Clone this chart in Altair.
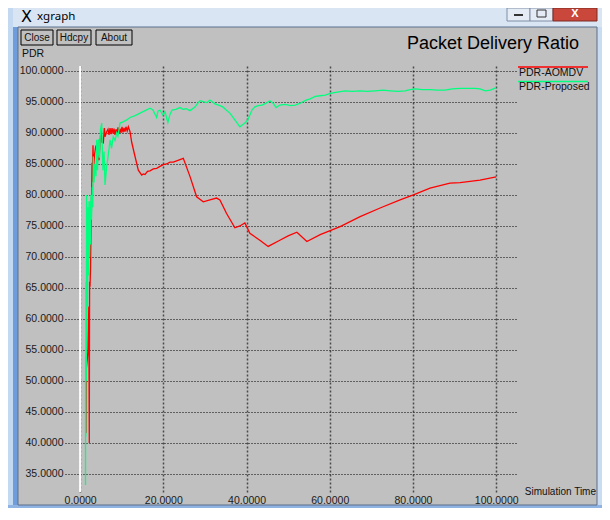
import altair as alt
import pandas as pd

# ---------------- data ----------------
aomdv_t = [1.37, 1.42, 1.49, 1.61, 1.73, 1.90, 2.09, 2.21, 2.28, 2.38,
           2.50, 2.62, 2.69, 2.79, 2.86, 2.93, 3.10, 3.22, 3.46, 3.75,
           3.99, 4.18, 4.38, 4.54, 4.78, 5.02, 5.26, 5.58, 5.82, 5.99,
           6.39, 6.71, 6.95, 7.19, 7.43, 7.67, 7.91, 8.15, 8.39, 8.63,
           8.87, 9.11, 9.35, 9.59, 9.83, 10.07, 10.31, 10.55, 10.79, 11.03,
           11.31, 11.59, 12.0, 12.4, 13.2, 13.99, 14.8, 15.2, 15.6, 16.2,
           16.8, 17.6, 18.4, 19.2, 20.0, 20.8, 21.6, 22.4, 23.2, 24.0,
           24.8, 26.4, 28.0, 29.6, 31.2, 32.8, 33.6, 35.2, 37.2, 38.4,
           39.6, 40.8, 43.2, 45.2, 48.0, 50.0, 52.1, 54.5, 57.7, 62.5,
           67.3, 72.1, 76.9, 80.1, 84.1, 88.9, 91.3, 96.1, 100.0]
aomdv_pdr = [52.6, 41.6, 52.0, 52.8, 53.5, 55.0, 62.0, 40.0, 66.0, 65.2,
             68.0, 74.4, 76.5, 81.3, 85.2, 82.1, 88.0, 84.0, 86.5, 87.8,
             88.1, 85.4, 87.0, 85.6, 88.4, 90.5, 88.5, 88.4, 90.8, 89.4,
             90.2, 90.6, 89.7, 90.8, 89.8, 90.8, 89.9, 90.7, 89.7, 90.6,
             89.8, 90.9, 89.9, 90.7, 90.0, 91.0, 90.1, 90.8, 90.2, 91.0,
             90.3, 91.0, 90.2, 88.5, 86.2, 84.0, 83.2, 83.4, 83.3, 83.8,
             83.9, 84.2, 84.3, 84.6, 84.9, 85.0, 85.3, 85.3, 85.5, 85.7,
             85.9, 83.0, 79.7, 78.9, 79.2, 79.5, 79.2, 77.0, 74.7, 75.0,
             75.5, 73.8, 72.7, 71.7, 72.7, 73.4, 74.0, 72.5, 73.6, 74.9,
             76.5, 77.9, 79.2, 80.0, 81.1, 81.9, 82.0, 82.4, 82.9]

proposed_t = [1.30, 1.32, 1.37, 1.42, 1.49, 1.56, 1.63, 1.71, 1.78, 1.90,
              2.00, 2.14, 2.26, 2.38, 2.50, 2.62, 2.74, 2.93, 3.05, 3.17,
              3.34, 3.58, 3.82, 3.99, 4.18, 4.42, 4.66, 4.90, 5.19, 5.38,
              5.50, 5.75, 5.99, 6.39, 6.70, 7.19, 7.55, 7.98, 8.39, 8.80,
              9.10, 9.59, 10.3, 11.2, 12.0, 13.2, 14.4, 15.6, 16.8, 17.5,
              18.4, 18.7, 19.2, 19.9, 20.4, 21.1, 21.6, 22.1, 23.0, 24.0,
              24.7, 25.5, 26.4, 27.6, 28.3, 28.8, 29.8, 30.5, 31.2, 32.4,
              33.6, 34.3, 35.1, 36.0, 37.2, 38.4, 39.2, 39.6, 40.3, 41.3,
              42.0, 42.8, 43.7, 44.7, 45.6, 46.4, 47.1, 48.0, 49.3, 50.5,
              51.7, 52.9, 54.3, 55.3, 56.5, 57.7, 58.9, 60.1, 61.8, 63.7,
              65.4, 67.3, 69.0, 70.9, 72.8, 74.5, 76.4, 78.1, 79.3, 80.5,
              82.2, 84.1, 85.8, 87.7, 89.4, 91.3, 93.2, 94.9, 96.1, 97.4,
              98.6, 100.0]
proposed_pdr = [33.2, 54, 41, 66, 50, 80, 58, 75, 62, 78,
                67, 79, 70, 79, 72, 80, 76, 81.3, 78, 86.2,
                82, 85, 83, 88.9, 84, 89, 86, 90.5, 91.6, 86.5,
                84, 87, 81.6, 84.6, 86, 88.9, 87.5, 89.4, 88.8, 90,
                89.5, 91.6, 91.8, 92.1, 92.5, 92.8, 93.2, 93.6, 94.0, 93.7,
                92.5, 93.5, 93.7, 92.9, 93.4, 91.7, 93.0, 93.7, 93.8, 94.1,
                93.8, 93.9, 93.6, 94.2, 94.8, 95.2, 95.0, 94.9, 95.3, 94.7,
                94.4, 94.2, 93.7, 93.2, 92.1, 91.0, 91.4, 91.6, 92.1, 93.7,
                94.2, 94.4, 94.5, 94.8, 95.2, 94.8, 94.1, 94.5, 94.6, 94.4,
                94.5, 94.8, 95.3, 95.5, 95.9, 96.0, 96.1, 96.4, 96.6, 96.8,
                96.7, 96.8, 96.7, 96.8, 96.9, 96.8, 96.7, 96.8, 97.0, 97.1,
                97.0, 97.0, 96.9, 96.9, 97.1, 97.2, 97.2, 97.2, 97.1, 96.8,
                96.9, 97.3]

series_names = ["PDR-AOMDV", "PDR-Proposed"]
series_colors = ["#ff0000", "#00ff7f"]
x_ticks = [0, 20, 40, 60, 80, 100]
y_ticks = [35, 40, 45, 50, 55, 60, 65, 70, 75, 80, 85, 90, 95, 100]

df = pd.concat([
    pd.DataFrame({"t": aomdv_t, "pdr": aomdv_pdr, "series": series_names[0],
                  "i": range(len(aomdv_t))}),
    pd.DataFrame({"t": proposed_t, "pdr": proposed_pdr, "series": series_names[1],
                  "i": range(len(proposed_t))}),
])

color_scale = alt.Scale(domain=series_names, range=series_colors)
FONT = "Liberation Sans"

# plot area occupies page x 65..517, y 66..492
OX, OY = 65, 66
PW, PH = 452, 426
BOTTOM = OY + PH  # page y of plot bottom
one = pd.DataFrame({"k": [0]})


def rect(x0, y0, x1, y1, **kw):
    return alt.Chart(one).mark_rect(**kw).encode(
        x=alt.value(x0 - OX), x2=alt.value(x1 - OX),
        y=alt.value(y0 - OY), y2=alt.value(y1 - OY))


def label(x, y, txt, **kw):
    base = dict(font=FONT, fontSize=10.5, color="#111", baseline="middle", align="left")
    base.update(kw)
    return alt.Chart(one).mark_text(text=txt, **base).encode(
        x=alt.value(x - OX), y=alt.value(y - OY))


chrome = [
    # title bar and window frame
    rect(8, 8, 602, 27, fill="#d9e5f3"),
    rect(8, 8, 13, 508, fill="#c3d8f1"),
    rect(13, 27, 18, 508, fill="#6f9ddb"),
    rect(597, 27, 602, 508, fill="#c9dcf2"),
    rect(8, 505, 602, 508, fill="#8fb3e3"),
    rect(18, 27, 597, 505, fill="transparent", stroke="#5b6f8c", strokeWidth=1),
    # window buttons
    rect(507, 8, 530, 21, fill="#e4ebf4", stroke="#7e8ea6", strokeWidth=1),
    rect(530, 8, 553, 21, fill="#e4ebf4", stroke="#7e8ea6", strokeWidth=1),
    rect(553, 8, 597, 21, fill="#c9473b", stroke="#7a2a22", strokeWidth=1),
    rect(514, 14, 523, 16, fill="#333"),
    rect(537, 10, 546, 17, fill="transparent", stroke="#333", strokeWidth=1),
    label(575, 14, "X", fontSize=11, fontWeight="bold", color="white", align="center"),
    # window title
    label(21, 17, "X", font="DejaVu Sans", fontSize=16, color="#000"),
    label(37, 17, "xgraph", font="Noto Sans", fontSize=11.5, color="#000"),
    # xgraph buttons
    rect(21, 30, 53, 45, fill="#c0c0c0", stroke="#000", strokeWidth=1),
    rect(57, 30, 91, 45, fill="#c0c0c0", stroke="#000", strokeWidth=1),
    rect(96, 30, 132, 45, fill="#c0c0c0", stroke="#000", strokeWidth=1),
    label(37, 37.5, "Close", fontSize=10, align="center"),
    label(74, 37.5, "Hdcpy", fontSize=10, align="center"),
    label(114, 37.5, "About", fontSize=10, align="center"),
    # titles
    label(407, 44, "Packet Delivery Ratio", fontSize=18, color="#000"),
    label(22, 54, "PDR", fontSize=10.5),
    label(596, BOTTOM, "Simulation Time", fontSize=10, align="right"),
]

x_enc = alt.X("t:Q", scale=alt.Scale(domain=[-3.63, 105.0], nice=False, zero=False),
              axis=alt.Axis(values=x_ticks, format=".4f", title=None, domain=False,
                            ticks=False, grid=True, gridDash=[2, 2], gridColor="#4a4a4a",
                            gridWidth=1.5, labelFontSize=10.5, labelColor="#1a1a1a",
                            labelFont=FONT, labelPadding=3, labelFlush=False))
y_enc = alt.Y("pdr:Q", scale=alt.Scale(domain=[100.8 - PH / 6.2, 100.8], nice=False, zero=False),
              axis=alt.Axis(values=y_ticks, format=".4f", title=None, domain=False,
                            ticks=False, grid=True, gridDash=[1, 2], gridColor="#000",
                            gridWidth=1, labelFontSize=10.5, labelColor="#1a1a1a",
                            labelFont=FONT, labelPadding=2))

zero_line = alt.Chart(pd.DataFrame({"t": [0]})).mark_rule(
    color="white", strokeWidth=2).encode(x=alt.X("t:Q"))

lines = alt.Chart(df).mark_line(strokeWidth=1.3).encode(
    x=x_enc, y=y_enc,
    color=alt.Color("series:N", scale=color_scale, legend=None),
    order=alt.Order("i:Q"),
    detail="series:N",
)

legend_layers = []
for k, name in enumerate(series_names):
    d = pd.DataFrame({"series": [name]})
    ly = 67 + 14.5 * k
    legend_layers.append(
        alt.Chart(d).mark_rule(strokeWidth=1.5).encode(
            x=alt.value(518 - OX), x2=alt.value(588 - OX), y=alt.value(ly - OY),
            color=alt.Color("series:N", scale=color_scale, legend=None)))
    legend_layers.append(
        alt.Chart(d).mark_text(font=FONT, fontSize=10.5, color="#111", align="left",
                               baseline="middle").encode(
            x=alt.value(519 - OX), y=alt.value(ly + 5.5 - OY), text="series:N"))

chart = alt.layer(lines, zero_line, *chrome, *legend_layers).properties(
    width=PW, height=PH,
    autosize=alt.AutoSizeParams(type="none"),
    padding={"left": 57, "top": 58, "right": 85, "bottom": 16},
    background="#c0c0c0",
).configure_view(stroke=None)

chart.save("out.html", embed_options={"renderer": "svg", "actions": False})
